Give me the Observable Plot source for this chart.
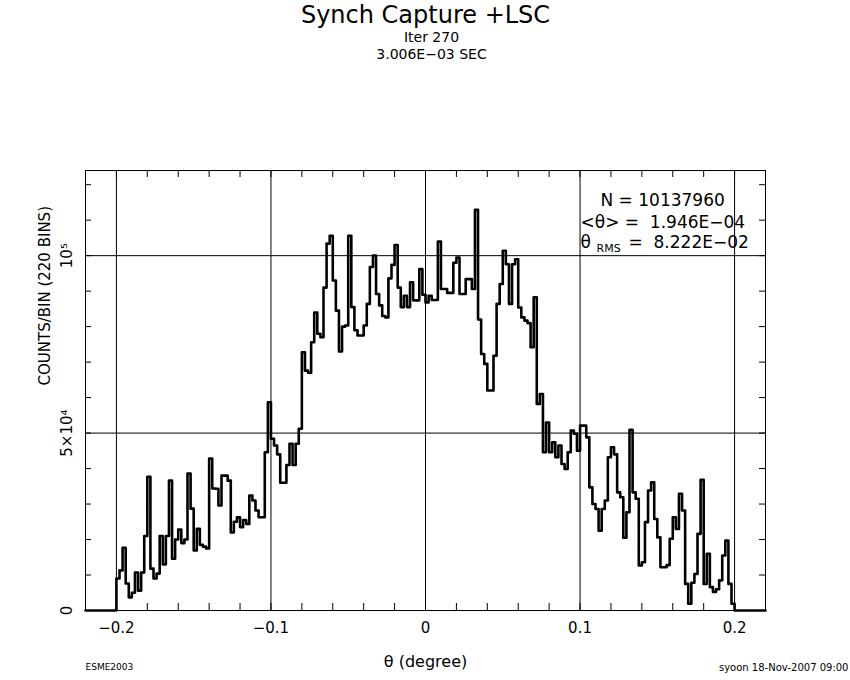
<!DOCTYPE html>
<html><head><meta charset="utf-8">
<script src="https://cdn.jsdelivr.net/npm/d3@7"></script>
<script src="https://cdn.jsdelivr.net/npm/@observablehq/plot@0.6"></script>
<style>body{margin:0;background:#fff;}</style>
</head><body><div id="chart"></div>
<script>
// Counts per bin (220 bins of 0.002 deg over [-0.22, 0.22]; bins outside [-0.2, 0.2] are empty)
const counts = [
  9000, 11300, 17700, 7600, 3700, 5000, 10700, 5600, 10700, 21000,
  37700, 11800, 9000, 10400, 21000, 13000, 21000, 36600, 14600, 20000,
  22800, 19000, 20000, 38600, 28700, 16900, 23000, 18500, 18000, 17500,
  42800, 34400, 34300, 29600, 38000, 38000, 36600, 22000, 25000, 26300,
  23500, 25500, 24400, 32400, 31000, 28200, 26300, 26300, 44600, 58700,
  48400, 46500, 44000, 36000, 36000, 41000, 47000, 41000, 47000, 51200,
  72800, 67600, 67000, 75600, 84000, 78000, 77000, 91000, 103400, 105600,
  93000, 84500, 73000, 80000, 80300, 105600, 85500, 79000, 77500, 77500,
  80300, 86400, 96800, 100000, 89200, 86000, 83000, 82600, 93600, 97400,
  103000, 91000, 85500, 88700, 85500, 92500, 87400, 87400, 96200, 89000,
  86800, 88700, 87500, 87500, 104000, 90600, 90600, 89500, 89500, 98000,
  99500, 89200, 89200, 93400, 93400, 90600, 112900, 82000, 72300, 69500,
  62000, 62000, 71800, 86400, 92000, 101400, 97600, 86400, 97600, 99000,
  85400, 82600, 81700, 81000, 74200, 88300, 58200, 61000, 44600, 53000,
  44600, 47400, 43200, 46500, 41300, 39900, 44600, 50700, 49800, 45000,
  52100, 52100, 48800, 34700, 30000, 28600, 22500, 28600, 31000, 43200,
  46000, 44000, 33300, 31900, 20500, 27700, 50900, 33300, 31500, 12700,
  13600, 24900, 33800, 36100, 25800, 20600, 12200, 12200, 12800, 20200,
  26300, 23000, 32900, 28200, 7500, 1900, 7800, 10300, 21600, 36800,
  7500, 16000, 6600, 5200, 6000, 8500, 15500, 19700, 7500, 1900
];
const binStart = -0.2;
const binWidth = 0.002;
const xDomain = [-0.22, 0.22];
const yDomain = [0, 124000];
const xTicks = [-0.2, -0.1, 0, 0.1, 0.2];
const xTickLabels = ["\u22120.2", "\u22120.1", "0", "0.1", "0.2"];
const xMinorTicks = [-0.22,-0.2,-0.18,-0.16,-0.14,-0.12,-0.1,-0.08,-0.06,-0.04,-0.02,0,0.02,0.04,0.06,0.08,0.1,0.12,0.14,0.16,0.18,0.2,0.22];
const yTicks = [0, 50000, 100000];
const yTickLabels = ["0", "5\u00d710\u2074", "10\u2075"];
const yMinorTicks = [10000,20000,30000,40000,50000,60000,70000,80000,90000,100000,110000,120000];
const title = "Synch Capture +LSC";
const subtitle1 = "Iter 270";
const subtitle2 = "3.006E\u221203 SEC";
const xLabel = "\u03b8 (degree)";
const yLabel = "COUNTS/BIN (220 BINS)";
const statN = "N = 10137960";
const statMean = "<\u03b8> =  1.946E\u221204";
const statRmsSym = "\u03b8";
const statRmsSub = "RMS";
const statRmsVal = "=  8.222E\u221202";
const footLeft = "ESME2003";
const footRight = "syoon 18-Nov-2007 09:00";

// step outline built from bin edges
const steps = [{x: xDomain[0], y: 0}];
counts.forEach((c, i) => steps.push({x: binStart + i * binWidth, y: c}));
steps.push({x: binStart + counts.length * binWidth, y: 0});
steps.push({x: xDomain[1], y: 0});

const H = 680, MT = 170, MB = 70, ML = 85, MR = 85;
const innerH = H - MT - MB, innerW = 850 - ML - MR;
const t = (s, o) => Plot.text([s], {text: d => d, fill: "black", ...o});

const plot = Plot.plot({
  width: 850,
  height: H,
  marginTop: MT, marginBottom: MB, marginLeft: ML, marginRight: MR,
  x: {domain: xDomain},
  y: {domain: yDomain},
  style: {fontFamily: "DejaVu Sans", fontSize: "15px", background: "white", color: "black"},
  marks: [
    Plot.ruleX(xTicks, {stroke: "black", strokeWidth: 1}),
    Plot.ruleY(yTicks.slice(1), {stroke: "black", strokeWidth: 1}),
    Plot.tickX(xMinorTicks, {x: d => d, insetTop: innerH - 7, stroke: "black"}),
    Plot.tickX(xMinorTicks, {x: d => d, insetBottom: innerH - 7, stroke: "black"}),
    Plot.tickY(yMinorTicks, {y: d => d, insetRight: innerW - 6, stroke: "black"}),
    Plot.tickY(yMinorTicks, {y: d => d, insetLeft: innerW - 6, stroke: "black"}),
    Plot.frame({stroke: "black"}),
    Plot.line(steps, {x: "x", y: "y", curve: "step-after", stroke: "black", strokeWidth: 2.6}),
    Plot.axisX(xTicks, {tickSize: 0, tickPadding: 12, label: null, fontSize: 15,
      tickFormat: d => xTickLabels[xTicks.indexOf(d)]}),
    Plot.axisY(yTicks, {tickSize: 0, tickPadding: 14, tickRotate: -90, label: null, fontSize: 15,
      tickFormat: d => yTickLabels[yTicks.indexOf(d)]}),
    t(title, {frameAnchor: "top", dy: -155, fontSize: 24, lineAnchor: "middle"}),
    t(subtitle1, {frameAnchor: "top", dx: 6, dy: -133, fontSize: 14, lineAnchor: "middle"}),
    t(subtitle2, {frameAnchor: "top", dx: 6, dy: -116, fontSize: 14, lineAnchor: "middle"}),
    t(xLabel, {frameAnchor: "bottom", dy: 51, fontSize: 16, lineAnchor: "middle"}),
    t(yLabel, {frameAnchor: "left", dx: -40, rotate: -90, fontSize: 15, lineAnchor: "middle", dy: -5}),
    t(statN, {frameAnchor: "top-right", dx: -165, dy: 30, fontSize: 17, textAnchor: "start", lineAnchor: "middle"}),
    t(statMean, {frameAnchor: "top-right", dx: -185, dy: 52, fontSize: 17, textAnchor: "start", lineAnchor: "middle"}),
    t(statRmsSym, {frameAnchor: "top-right", dx: -185, dy: 72, fontSize: 17, textAnchor: "start", lineAnchor: "middle"}),
    t(statRmsSub, {frameAnchor: "top-right", dx: -169, dy: 78, fontSize: 11, textAnchor: "start", lineAnchor: "middle"}),
    t(statRmsVal, {frameAnchor: "top-right", dx: -137, dy: 72, fontSize: 17, textAnchor: "start", lineAnchor: "middle"}),
    t(footLeft, {frameAnchor: "bottom-left", dx: 0, dy: 57, fontSize: 9, textAnchor: "start", lineAnchor: "middle"}),
    t(footRight, {frameAnchor: "bottom-right", dx: 83, dy: 57, fontSize: 10, textAnchor: "end", lineAnchor: "middle"})
  ]
});
document.getElementById("chart").append(plot);
</script>
</body></html>
